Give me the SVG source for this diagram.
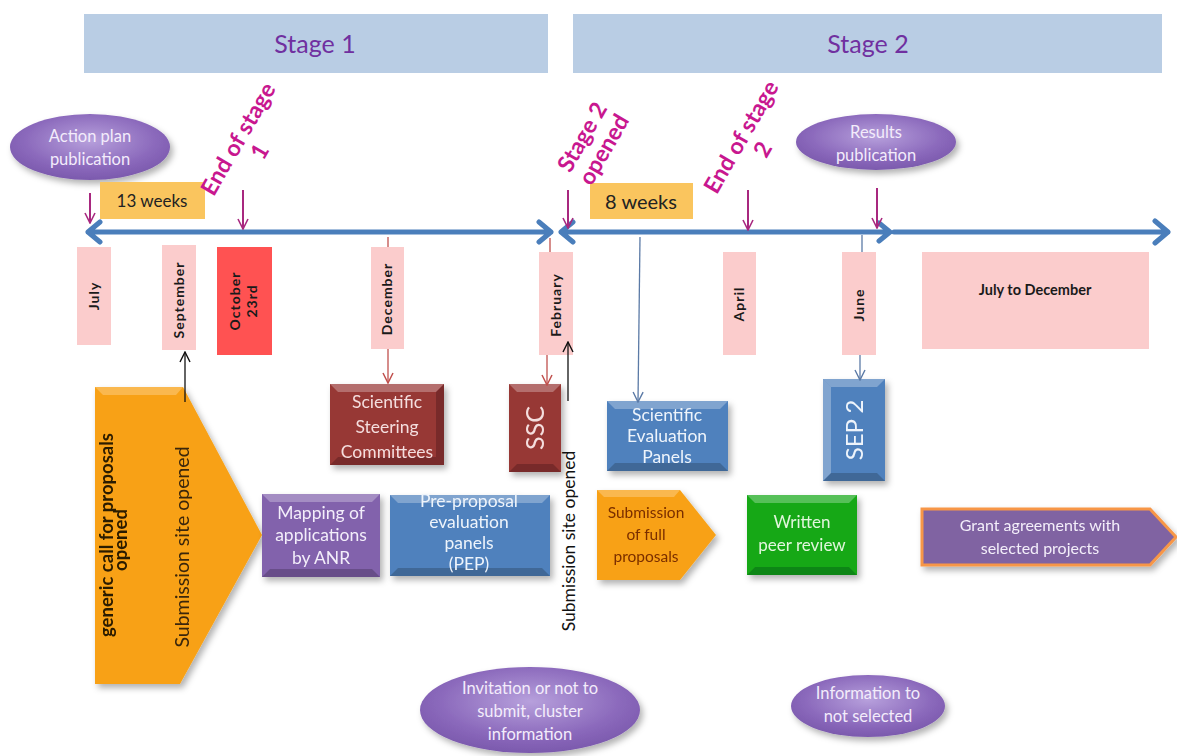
<svg xmlns="http://www.w3.org/2000/svg" width="1177" height="756" viewBox="0 0 1177 756">
<style>
text{font-family:Lato,"Open Sans","Liberation Sans",sans-serif}
.stage{fill:#b9cde4}
.stxt{font-size:25px;fill:#7030a0;text-anchor:middle}
.wk{fill:#fac55e}
.mon{fill:#fbcccc}
.mtxt{font-size:14px;font-weight:bold;fill:#1a1a1a;text-anchor:middle;letter-spacing:1px}
.mag{font-size:23px;font-weight:bold;fill:#c8178f;text-anchor:middle}
.tl{stroke:#4a7ebb;stroke-width:5;fill:none;stroke-linecap:round;stroke-linejoin:round}
.bx{font-size:17.5px;text-anchor:middle}
.lt{fill:#fff;opacity:.28}
.dk{fill:#000;opacity:.2}
.ell{fill:url(#eg);filter:url(#sh)}
.etx{font-size:16.5px;fill:#f3ecfb;text-anchor:middle}
</style>
<defs>
<radialGradient id="eg" cx="50%" cy="40%" r="60%">
<stop offset="0" stop-color="#b7a0dc"/>
<stop offset="0.7" stop-color="#8a68bb"/>
<stop offset="1" stop-color="#7b59ad"/>
</radialGradient>
<filter id="sh" x="-20%" y="-20%" width="150%" height="160%">
<feDropShadow dx="3" dy="4" stdDeviation="3" flood-color="#000" flood-opacity="0.3"/>
</filter>
<marker id="am" viewBox="0 0 12 12" refX="11" refY="6" markerWidth="12" markerHeight="12" markerUnits="userSpaceOnUse" orient="auto"><path d="M1,1 L11,6 L1,11" fill="none" stroke="#a8287f" stroke-width="1.6"/></marker>
<marker id="ar" viewBox="0 0 12 12" refX="11" refY="6" markerWidth="12" markerHeight="12" markerUnits="userSpaceOnUse" orient="auto"><path d="M1,1 L11,6 L1,11" fill="none" stroke="#c0504d" stroke-width="1.5"/></marker>
<marker id="ak" viewBox="0 0 12 12" refX="11" refY="6" markerWidth="12" markerHeight="12" markerUnits="userSpaceOnUse" orient="auto"><path d="M1,1 L11,6 L1,11" fill="none" stroke="#111" stroke-width="1.4"/></marker>
<marker id="ab" viewBox="0 0 12 12" refX="11" refY="6" markerWidth="12" markerHeight="12" markerUnits="userSpaceOnUse" orient="auto"><path d="M1,1 L11,6 L1,11" fill="none" stroke="#5b7aa6" stroke-width="1.4"/></marker>
</defs>
<rect width="1177" height="756" fill="#fff"/>

<g id="stage1"><rect class="stage" x="84" y="14" width="464" height="59"/><text class="stxt" x="315" y="53">Stage 1</text></g>
<g id="stage2"><rect class="stage" x="573" y="14" width="589" height="59"/><text class="stxt" x="868" y="53">Stage 2</text></g>

<g id="timeline">
<path class="tl" d="M88,232 H551 M100,222 L88,232 L100,242 M539,222 L551,232 L539,242"/>
<path class="tl" d="M561,232 H890 M573,222 L561,232 L573,242 M879,223 L890,232 L879,241"/>
<path class="tl" d="M894,232 H1168 M1155,221 L1168,232 L1155,243"/>
</g>

<g id="action-plan"><ellipse class="ell" cx="90" cy="147" rx="80" ry="33"/><text class="etx" x="90" y="142">Action plan</text><text class="etx" x="90" y="165">publication</text></g>
<g id="results-pub"><ellipse class="ell" cx="876" cy="142" rx="80" ry="28"/><text class="etx" x="876" y="138">Results</text><text class="etx" x="876" y="161">publication</text></g>

<g id="weeks13"><rect class="wk" x="100" y="182" width="105" height="37"/><text x="152" y="207" font-size="17" fill="#222" text-anchor="middle">13 weeks</text></g>
<g id="weeks8"><rect class="wk" x="590" y="183" width="103" height="36"/><text x="641" y="209" font-size="20" fill="#222" text-anchor="middle">8 weeks</text></g>

<g id="end-stage1"><text class="mag" transform="translate(245,143) rotate(-60)"><tspan x="0" y="0">End of stage</tspan><tspan x="0" y="25">1</tspan></text></g>
<g id="stage2-opened"><text class="mag" transform="translate(589,141) rotate(-60)"><tspan x="0" y="0">Stage 2</tspan><tspan x="0" y="25">opened</tspan></text></g>
<g id="end-stage2"><text class="mag" transform="translate(748,141) rotate(-60)"><tspan x="0" y="0">End of stage</tspan><tspan x="0" y="25">2</tspan></text></g>

<g id="july"><rect class="mon" x="77" y="247" width="34" height="98"/><text class="mtxt" transform="translate(99,296) rotate(-90)">July</text></g>
<g id="september"><rect class="mon" x="162" y="245" width="34" height="105"/><text class="mtxt" transform="translate(184,300) rotate(-90)">September</text></g>
<g id="october"><rect x="217" y="247" width="55" height="108" fill="#ff5252"/><text class="mtxt" transform="translate(244,301) rotate(-90)"><tspan x="0" y="-4">October</tspan><tspan x="0" y="13">23rd</tspan></text></g>
<g id="december"><rect class="mon" x="371" y="247" width="33" height="102"/><text class="mtxt" transform="translate(392,299) rotate(-90)">December</text></g>
<g id="february"><rect class="mon" x="539" y="252" width="34" height="103"/><text class="mtxt" transform="translate(561,305) rotate(-90)">February</text></g>
<g id="april"><rect class="mon" x="723" y="252" width="33" height="103"/><text class="mtxt" transform="translate(744,304) rotate(-90)">April</text></g>
<g id="june"><rect class="mon" x="842" y="252" width="34" height="103"/><text class="mtxt" transform="translate(864,305) rotate(-90)">June</text></g>
<g id="july-dec"><rect class="mon" x="922" y="252" width="227" height="97"/><text x="1035" y="295" font-size="14.5" font-weight="bold" fill="#1a1a1a" text-anchor="middle">July to December</text></g>

<g id="generic-call" filter="url(#sh)">
<polygon points="95,387 183,387 262,535 180,684 95,684" fill="#f8a114"/>
<polygon points="95,387 183,387 176,395 103,395" fill="#fff" opacity=".25"/>
<text transform="translate(113,535) rotate(-90)" font-size="18.5" font-weight="bold" fill="#2a1a00" text-anchor="middle">generic call for proposals</text>
<text transform="translate(127,540) rotate(-90)" font-size="18.5" font-weight="bold" fill="#2a1a00" text-anchor="middle">opened</text>
<text transform="translate(189,547) rotate(-90)" font-size="19.5" fill="#3a2608" text-anchor="middle">Submission site opened</text>
</g>

<g id="ssc-committees" filter="url(#sh)">
<rect x="330" y="384" width="114" height="81" fill="#973735"/>
<polygon class="lt" points="330,384 444,384 436,392 338,392"/><polygon class="dk" points="330,465 444,465 436,457 338,457"/><polygon class="dk" points="444,384 436,392 436,457 444,465" opacity=".12"/>
<text class="bx" fill="#f4dede" x="387" y="408">Scientific</text><text class="bx" fill="#f4dede" x="387" y="433">Steering</text><text class="bx" fill="#f4dede" x="387" y="458">Committees</text>
</g>
<g id="ssc" filter="url(#sh)">
<rect x="509" y="384" width="52" height="88" fill="#973735"/>
<polygon class="lt" points="509,384 561,384 553,392 517,392"/><polygon class="dk" points="509,472 561,472 553,464 517,464"/>
<text transform="translate(544,428) rotate(-90)" font-size="25" fill="#f4dede" text-anchor="middle">SSC</text>
</g>
<g id="mapping" filter="url(#sh)">
<rect x="262" y="494" width="118" height="83" fill="#8262ac"/>
<polygon class="lt" points="262,494 380,494 372,502 270,502"/><polygon class="dk" points="262,577 380,577 372,569 270,569"/>
<text class="bx" fill="#f3eefa" x="321" y="519">Mapping of</text><text class="bx" fill="#f3eefa" x="321" y="541">applications</text><text class="bx" fill="#f3eefa" x="321" y="564">by ANR</text>
</g>
<g id="pep" filter="url(#sh)">
<rect x="390" y="495" width="160" height="81" fill="#4f81bd"/>
<polygon class="lt" points="390,495 550,495 542,503 398,503"/><polygon class="dk" points="390,576 550,576 542,568 398,568"/>
<text class="bx" fill="#eef4fb" x="469" y="507">Pre-proposal</text><text class="bx" fill="#eef4fb" x="469" y="528">evaluation</text><text class="bx" fill="#eef4fb" x="469" y="549">panels</text><text class="bx" fill="#eef4fb" x="469" y="570">(PEP)</text>
</g>
<g id="sep" filter="url(#sh)">
<rect x="607" y="401" width="121" height="70" fill="#4f81bd"/>
<polygon class="lt" points="607,401 728,401 720,409 615,409"/><polygon class="dk" points="607,471 728,471 720,463 615,463"/>
<text class="bx" fill="#eef4fb" x="667" y="421">Scientific</text><text class="bx" fill="#eef4fb" x="667" y="442">Evaluation</text><text class="bx" fill="#eef4fb" x="667" y="463">Panels</text>
</g>
<g id="sep2" filter="url(#sh)">
<rect x="823" y="379" width="62" height="102" fill="#4f81bd"/>
<polygon class="lt" points="823,379 885,379 877,387 831,387"/><polygon class="dk" points="823,481 885,481 877,473 831,473"/><polygon class="lt" points="823,379 831,387 831,473 823,481" opacity=".15"/>
<text transform="translate(863,430) rotate(-90)" font-size="24" fill="#eef4fb" text-anchor="middle">SEP 2</text>
</g>
<g id="full-proposals" filter="url(#sh)">
<polygon points="597,490 680,490 716,535 680,580 597,580" fill="#f8a114"/>
<polygon points="597,490 680,490 674,497 604,497" fill="#fff" opacity=".25"/>
<text x="646" y="518" font-size="15.5" fill="#7a2e00" text-anchor="middle">Submission</text><text x="646" y="540" font-size="15.5" fill="#7a2e00" text-anchor="middle">of full</text><text x="646" y="562" font-size="15.5" fill="#7a2e00" text-anchor="middle">proposals</text>
</g>
<g id="peer-review" filter="url(#sh)">
<rect x="747" y="495" width="110" height="80" fill="#16a818"/>
<polygon class="lt" points="747,495 857,495 849,503 755,503"/><polygon class="dk" points="747,575 857,575 849,567 755,567"/>
<text x="802" y="528" font-size="17" fill="#e2f6dc" text-anchor="middle">Written</text><text x="802" y="551" font-size="17" fill="#e2f6dc" text-anchor="middle">peer review</text>
</g>
<g id="grant" filter="url(#sh)">
<polygon points="922,509 1150,509 1176,537 1150,565 922,565" fill="#8064a2" stroke="#f79646" stroke-width="3"/>
<text x="1040" y="531" font-size="16" fill="#f3eefa" text-anchor="middle">Grant agreements with</text><text x="1040" y="554" font-size="16" fill="#f3eefa" text-anchor="middle">selected projects</text>
</g>
<g id="submission-site-2"><text transform="translate(575,541) rotate(-90)" font-size="17.5" fill="#111" text-anchor="middle">Submission site opened</text></g>

<g id="invitation"><ellipse class="ell" cx="530" cy="710" rx="110" ry="43"/><text class="etx" x="530" y="694">Invitation or not to</text><text class="etx" x="530" y="717">submit, cluster</text><text class="etx" x="530" y="740">information</text></g>
<g id="info-not-selected"><ellipse class="ell" cx="868" cy="706" rx="77" ry="31"/><text class="etx" x="868" y="699">Information to</text><text class="etx" x="868" y="722">not selected</text></g>

<g id="connectors" fill="none">
<g stroke="#a8287f" stroke-width="2">
<line x1="90" y1="193" x2="90" y2="223" marker-end="url(#am)"/>
<line x1="243" y1="190" x2="243" y2="229" marker-end="url(#am)"/>
<line x1="568" y1="190" x2="568" y2="228" marker-end="url(#am)"/>
<line x1="748" y1="190" x2="748" y2="230" marker-end="url(#am)"/>
<line x1="877" y1="188" x2="877" y2="228" marker-end="url(#am)"/>
</g>
<g stroke="#c0504d" stroke-width="1.3">
<line x1="388" y1="237" x2="388" y2="247"/>
<line x1="388" y1="349" x2="388" y2="383" marker-end="url(#ar)"/>
<line x1="550" y1="238" x2="550" y2="252"/>
<line x1="547" y1="355" x2="547" y2="385" marker-end="url(#ar)"/>
</g>
<g stroke="#111" stroke-width="1.3">
<line x1="185" y1="402" x2="185" y2="352" marker-end="url(#ak)"/>
<line x1="568" y1="401" x2="568" y2="342" marker-end="url(#ak)"/>
</g>
<g stroke="#5b7aa6" stroke-width="1.3">
<line x1="640" y1="237" x2="638" y2="402" marker-end="url(#ab)"/>
<line x1="862" y1="235" x2="862" y2="252"/>
<line x1="860" y1="355" x2="860" y2="380" marker-end="url(#ab)"/>
</g>
</g>
</svg>
